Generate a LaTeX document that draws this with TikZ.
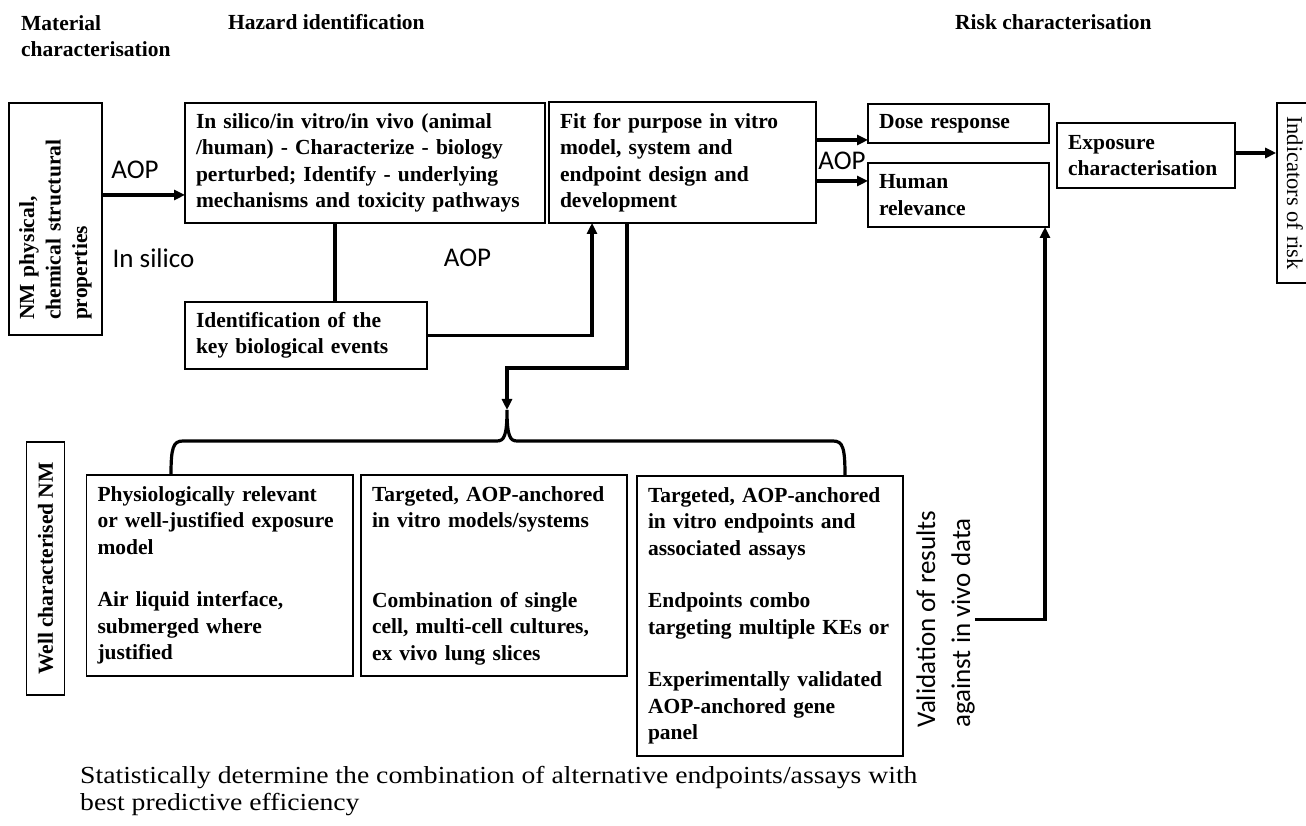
\documentclass[tikz,border=0pt]{standalone}
\usepackage{fontspec}
\setmainfont{Liberation Serif}
\newfontfamily\calib{Carlito}
\newfontfamily\widerm[FakeStretch=1.13]{Liberation Serif}
\usetikzlibrary{arrows.meta}

\newcommand\bodyfont{\bfseries\fontsize{21.5}{26.5}\selectfont}

\tikzset{
  box/.style={draw, line width=1.6pt, inner xsep=11pt, inner ysep=0pt,
              outer sep=0pt, align=left, font=\bodyfont},
  conn/.style={line width=3.2pt},
  arr/.style={conn, -{Triangle[length=11pt,width=10pt]}},
  sans/.style={font=\calib\fontsize{27}{35}\selectfont, inner sep=0pt},
  head/.style={font=\bodyfont, inner sep=0pt, align=left},
}

\begin{document}
\begin{tikzpicture}[x=1pt, y=1pt]
\useasboundingbox (0,0) rectangle (1306,826);
\clip (0,0) rectangle (1306,826);

% column headings
\node[head, anchor=north west] (hmat) at (21,811) {Material\\characterisation};
\node[head, anchor=base west] (hhaz) at (228,796) {Hazard identification};
\node[head, anchor=base west] (hrisk) at (955,796) {Risk characterisation};

% top row
\node[box, rotate=90, text width=202pt, inner xsep=15pt, minimum height=93pt] (nm) at (55.5,607)
  {NM physical,\\chemical structural\\properties};
\node[box, text width=338pt, minimum height=120pt] (b1) at (365,663)
  {In silico/in vitro/in vivo (animal\\/human) - Characterize - biology\\perturbed; Identify - underlying\\mechanisms and toxicity pathways};
\node[box, text width=245pt, minimum height=121pt] (b2) at (682.5,663.5)
  {Fit for purpose in vitro\\model, system and\\endpoint design and\\development};
\node[box, text width=159pt, minimum height=39pt] (dose) at (958.5,702.5) {Dose response};
\node[box, text width=159pt, minimum height=64pt] (hum) at (958.5,631) {Human\\relevance};
\node[box, text width=156pt, minimum height=65pt] (exp) at (1146,670.5) {Exposure\\characterisation};
\node[draw, line width=1.6pt, rotate=-90, minimum width=180pt, minimum height=36pt, inner sep=0pt,
      font=\fontsize{22.5}{27}\selectfont] (ind) at (1295,633) {Indicators of risk};
\node[box, text width=220pt, minimum height=67pt] (id) at (306,490.5)
  {Identification of the\\key biological events};

% labels on the top row
\node[sans] (aop1) at (135,656) {AOP};
\node[sans] (insil) at (153.5,568) {In silico};
\node[sans] (aop2) at (467.5,568) {AOP};
\node[sans] (aop3) at (842,665) {AOP};

% lower row
\node[box, rotate=90, minimum width=253pt, minimum height=38pt, inner sep=0pt] (wnm) at (45.5,257.5)
  {Well characterised NM};
\node[box, text width=244.5pt, minimum height=201pt] (ba) at (219.75,250.5)
  {Physiologically relevant\\or well-justified exposure\\model\\[26pt]Air liquid interface,\\submerged where\\justified};
\node[box, text width=244pt, minimum height=201pt] (bb) at (494,250.5)
  {Targeted, AOP-anchored\\in vitro models/systems\\[53pt]Combination of single\\cell, multi-cell cultures,\\ex vivo lung slices};
\node[box, text width=244pt, minimum height=280pt] (bc) at (770,210)
  {Targeted, AOP-anchored\\in vitro endpoints and\\associated assays\\[26pt]Endpoints combo\\targeting multiple KEs or\\[26pt]Experimentally validated\\AOP-anchored gene\\panel};
\node[sans, rotate=90, anchor=west, align=left] (val) at (945.5,98)
  {Validation of results\\against in vivo data};

\node[anchor=north west, inner sep=0pt, align=left,
      font=\widerm\fontsize{24.5}{27}\selectfont] (stat) at (80,60)
  {Statistically determine the combination of alternative endpoints/assays with\\best predictive efficiency};

% connectors
\coordinate (yA) at (0,631);
\coordinate (yD) at (0,686);
\coordinate (yH) at (0,645);
\coordinate (yE) at (0,673);
\coordinate (cusp) at (507,416);

\draw[arr] (nm.south |- yA) -- (b1.west |- yA);
\draw[conn] ([xshift=150pt]b1.south west) -- ([xshift=150pt]id.north west);
\draw[arr] (id.east) -| ([xshift=43pt]b2.south west);
\draw[arr] ([xshift=78pt]b2.south west) -- ++(0,-145) -| (cusp);
\draw[arr] (b2.east |- yD) -- (dose.west |- yD);
\draw[arr] (b2.east |- yH) -- (hum.west |- yH);
\draw[arr] (exp.east |- yE) -- (ind.south |- yE);
\draw[arr] (val.south) -| ([xshift=-4pt]hum.south east);

% brace spreading to the three lower boxes
\draw[conn] ([xshift=84.5pt]ba.north west)
  .. controls (171,378) and (173,385) .. (183,385) -- (497,385)
  .. controls (504,385) and (507,390) .. (cusp)
  .. controls (507,390) and (510,385) .. (517,385) -- (833,385)
  .. controls (843,385) and (845,378) .. ([xshift=208pt]bc.north west);
\end{tikzpicture}
\end{document}
